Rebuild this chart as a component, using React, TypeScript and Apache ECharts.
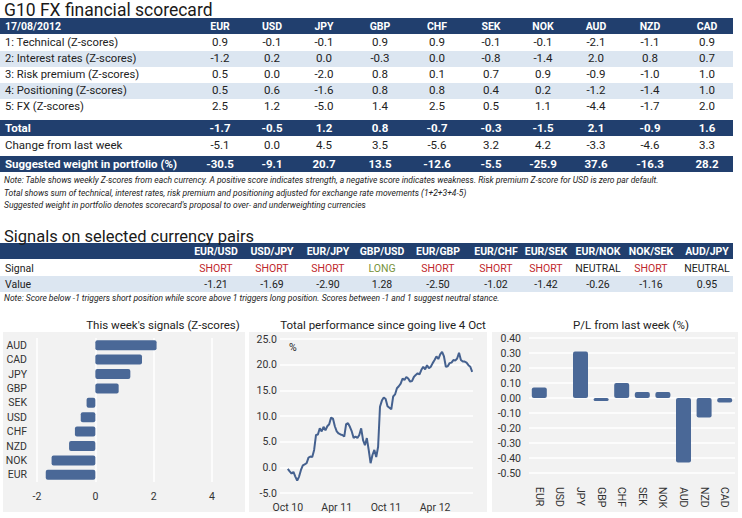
import React, { useEffect, useRef } from 'react';
import * as echarts from 'echarts';

// ---------- Data ----------
const currencies = ['EUR', 'USD', 'JPY', 'GBP', 'CHF', 'SEK', 'NOK', 'AUD', 'NZD', 'CAD'];
const technical = [0.9, -0.1, -0.1, 0.9, 0.9, -0.1, -0.1, -2.1, -1.1, 0.9];
const interestRates = [-1.2, 0.2, 0.0, -0.3, 0.0, -0.8, -1.4, 2.0, 0.8, 0.7];
const riskPremium = [0.5, 0.0, -2.0, 0.8, 0.1, 0.7, 0.9, -0.9, -1.0, 1.0];
const positioning = [0.5, 0.6, -1.6, 0.8, 0.8, 0.4, 0.2, -1.2, -1.4, 1.0];
const fxScores = [2.5, 1.2, -5.0, 1.4, 2.5, 0.5, 1.1, -4.4, -1.7, 2.0];
const totals = [-1.7, -0.5, 1.2, 0.8, -0.7, -0.3, -1.5, 2.1, -0.9, 1.6];
const changeFromLastWeek = [-5.1, 0.0, 4.5, 3.5, -5.6, 3.2, 4.2, -3.3, -4.6, 3.3];
const suggestedWeight = [-30.5, -9.1, 20.7, 13.5, -12.6, -5.5, -25.9, 37.6, -16.3, 28.2];

const pairs = ['EUR/USD', 'USD/JPY', 'EUR/JPY', 'GBP/USD', 'EUR/GBP', 'EUR/CHF', 'EUR/SEK', 'EUR/NOK', 'NOK/SEK', 'AUD/JPY'];
const pairSignals = ['SHORT', 'SHORT', 'SHORT', 'LONG', 'SHORT', 'SHORT', 'SHORT', 'NEUTRAL', 'SHORT', 'NEUTRAL'];
const pairValues = [-1.21, -1.69, -2.9, 1.28, -2.5, -1.02, -1.42, -0.26, -1.16, 0.95];

const signalCurrencies = ['EUR', 'NOK', 'NZD', 'CHF', 'USD', 'SEK', 'GBP', 'JPY', 'CAD', 'AUD'];
const signalValues = [-1.7, -1.5, -0.9, -0.7, -0.5, -0.3, 0.8, 1.2, 1.6, 2.1];

const perfStartUTC = Date.UTC(2010, 9, 1);
const performance = [
  -0.3, -0.8, -1.2, -0.9, -1.8, -2.6, -1.8, -0.5, 0.4, 0.6,
  0.8, 1.9, 2.1, 2.0, 3.4, 6.3, 6.4, 7.6, 7.0, 7.9,
  7.2, 8.0, 8.4, 9.7, 9.5, 8.0, 7.0, 6.6, 6.4, 6.3,
  6.0, 8.4, 8.6, 7.9, 7.0, 5.7, 6.0, 5.7, 6.3, 7.6,
  5.3, 4.3, 5.7, 3.4, 0.8, 2.4, 3.4, 2.0, 4.0, 11.8,
  13.0, 13.6, 13.3, 11.9, 11.6, 11.3, 13.8, 14.2, 15.4, 15.8,
  16.3, 17.3, 17.0, 17.6, 17.3, 16.7, 16.8, 17.6, 18.0, 18.3,
  18.1, 19.0, 19.6, 19.1, 19.9, 19.3, 19.6, 20.3, 20.9, 21.6,
  21.1, 22.0, 22.5, 21.6, 19.6, 19.7, 20.3, 20.4, 20.9, 20.8,
  21.2, 22.3, 20.9, 20.6, 20.6, 20.4, 19.9, 19.6, 18.6,
];
const perfTickDates = [Date.UTC(2010, 9, 1), Date.UTC(2011, 3, 1), Date.UTC(2011, 9, 1), Date.UTC(2012, 3, 1)];
const perfTickLabels = ['Oct 10', 'Apr 11', 'Oct 11', 'Apr 12'];

const plCurrencies = ['EUR', 'USD', 'JPY', 'GBP', 'CHF', 'SEK', 'NOK', 'AUD', 'NZD', 'CAD'];
const plValues = [0.07, 0.0, 0.31, -0.02, 0.1, 0.04, 0.04, -0.43, -0.13, -0.03];

const notes1 = [
  'Note: Table shows weekly Z-scores from each currency. A positive score indicates strength, a negative score indicates weakness. Risk premium Z-score for USD is zero par default.',
  'Total shows sum of technical, interest rates, risk premium and positioning adjusted for exchange rate movements (1+2+3+4-5)',
  "Suggested weight in portfolio denotes scorecard's proposal to over- and underweighting currencies",
];
const note2 = 'Note: Score below -1 triggers short position while score above 1 triggers long position. Scores between -1 and 1 suggest neutral stance.';

// ---------- Styling ----------
const NAVY = '#213f6e';
const BAND = '#dce6f1';
const BAR = '#4a6897';
const LINE = '#45618f';
const PANEL = '#f2f2f2';
const F = "Roboto, 'DejaVu Sans', sans-serif";
const FN = "'Liberation Sans Narrow', 'Arial Narrow', Roboto, sans-serif";

const cols1 = [220, 272, 324, 380, 437, 491, 543, 596, 650, 707];
const cols2 = [216, 272, 328, 382, 438, 496, 546, 598, 651, 707];

function buildGraphics() {
  const g: any[] = [];
  const rect = (x: number, y: number, w: number, h: number, fill: string, z = 0) =>
    g.push({ type: 'rect', silent: true, z, shape: { x, y, width: w, height: h }, style: { fill } });
  const text = (x: number, y: number, t: string, o: any = {}) =>
    g.push({
      type: 'text', silent: true, z: 1, x, y, scaleX: o.sx || 1,
      style: {
        text: t, fill: o.fill || '#222', fontSize: o.size || 10.5, fontFamily: o.family || F,
        fontWeight: o.weight || 'normal', fontStyle: o.italic ? 'italic' : 'normal',
        align: o.align || 'left', verticalAlign: 'middle',
        textAlign: o.align || 'left', textVerticalAlign: 'middle',
      },
    });

  // Table 1
  text(4, 10, 'G10 FX financial scorecard', { size: 17.5, family: FN, fill: '#1a1a1a' });
  rect(0, 18, 733, 16, NAVY);
  text(5, 26, '17/08/2012', { fill: '#fff', weight: 'bold', size: 10.5 });
  currencies.forEach((c, i) => text(cols1[i], 26, c, { fill: '#fff', weight: 'bold', align: 'center', size: 10.5 }));
  const rows: [string, number[]][] = [
    ['1: Technical (Z-scores)', technical],
    ['2: Interest rates (Z-scores)', interestRates],
    ['3: Risk premium (Z-scores)', riskPremium],
    ['4: Positioning (Z-scores)', positioning],
    ['5: FX (Z-scores)', fxScores],
  ];
  rows.forEach(([label, vals], r) => {
    const y = 43 + r * 16;
    if (r % 2 === 1) rect(0, y - 8, 733, 16, BAND);
    text(5, y, label, { size: 10.5, sx: 1.07 });
    vals.forEach((v, i) => text(cols1[i], y, v.toFixed(1), { align: 'center', size: 10.5, sx: 1.1 }));
  });
  rect(0, 120, 733, 16, NAVY);
  text(5, 128, 'Total', { fill: '#fff', weight: 'bold', family: FN, size: 11.5 });
  totals.forEach((v, i) => text(cols1[i], 128, v.toFixed(1), { fill: '#fff', weight: 'bold', family: FN, align: 'center', size: 11.5 }));
  text(5, 145, 'Change from last week', { family: FN, size: 11.5 });
  changeFromLastWeek.forEach((v, i) => text(cols1[i], 145, v.toFixed(1), { family: FN, align: 'center', size: 11.5 }));
  rect(0, 156, 733, 16, NAVY);
  text(5, 164, 'Suggested weight in portfolio (%)', { fill: '#fff', weight: 'bold', family: FN, size: 11.5 });
  suggestedWeight.forEach((v, i) => text(cols1[i], 164, v.toFixed(1), { fill: '#fff', weight: 'bold', family: FN, align: 'center', size: 11.5 }));
  notes1.forEach((n, i) => text(4, 180 + i * 12.5, n, { family: FN, italic: true, size: 8.5 }));

  // Table 2
  text(4, 236, 'Signals on selected currency pairs', { size: 16.5, family: FN, fill: '#1a1a1a' });
  rect(0, 243, 733, 16, NAVY);
  pairs.forEach((p, i) => text(cols2[i], 251, p, { fill: '#fff', weight: 'bold', align: 'center', size: 10.5, family: FN }));
  text(5, 268, 'Signal', { size: 10.5 });
  pairSignals.forEach((s, i) =>
    text(cols2[i], 268, s, {
      align: 'center', size: 10.5,
      fill: s === 'SHORT' ? '#c0272d' : s === 'LONG' ? '#77933c' : '#222',
    }));
  rect(0, 276, 733, 16, BAND);
  text(5, 284, 'Value', { size: 10.5 });
  pairValues.forEach((v, i) => text(cols2[i], 284, v.toFixed(2), { align: 'center', size: 10.5 }));
  text(4, 298, note2, { family: FN, italic: true, size: 8.5 });

  // Chart panels
  rect(3, 332, 242, 180, PANEL, -10);
  rect(249, 332, 238, 180, PANEL, -10);
  rect(492, 332, 246, 180, PANEL, -10);
  text(163, 325, "This week's signals (Z-scores)", { align: 'center', size: 11.5, family: FN });
  text(383, 325, 'Total performance since going live 4 Oct', { align: 'center', size: 11.5, family: FN });
  text(631, 325, 'P/L from last week (%)', { align: 'center', size: 11.5, family: FN });
  text(289, 347, '%', { size: 10.5 });
  return g;
}

function buildOption(): any {
  const axisText = { color: '#333', fontSize: 10.5, fontFamily: F };
  const whiteSplit = { show: true, lineStyle: { color: '#ffffff', width: 1.5 } };
  const perfData = performance.map((v, i) => [perfStartUTC + i * 7 * 86400000, v]);
  return {
    animation: false,
    graphic: buildGraphics(),
    grid: [
      { left: 37, top: 338, width: 175, height: 144 },
      { left: 280, top: 339, width: 193, height: 154 },
      { left: 529, top: 338, width: 206, height: 135 },
    ],
    xAxis: [
      {
        gridIndex: 0, type: 'value', min: -2, max: 4, interval: 2,
        axisLine: { show: false }, axisTick: { show: false }, splitLine: whiteSplit,
        axisLabel: { ...axisText, margin: 9 },
      },
      {
        gridIndex: 1, type: 'value', min: Date.UTC(2010, 8, 2), max: Date.UTC(2012, 7, 20),
        axisLine: { show: false }, axisTick: { show: false }, splitLine: { show: false },
        axisLabel: {
          ...axisText, margin: 9, customValues: perfTickDates,
          formatter: (v: number) => {
            let best = 0;
            perfTickDates.forEach((d, i) => { if (Math.abs(d - v) < Math.abs(perfTickDates[best] - v)) best = i; });
            return perfTickLabels[best];
          },
        },
      },
      {
        gridIndex: 2, type: 'category', data: plCurrencies,
        axisLine: { show: false }, axisTick: { show: false },
        axisLabel: { ...axisText, rotate: -90, margin: 14, interval: 0 },
      },
    ],
    yAxis: [
      {
        gridIndex: 0, type: 'category', data: signalCurrencies,
        axisLine: { show: false }, axisTick: { show: false },
        axisLabel: { ...axisText, margin: 10, interval: 0 },
      },
      {
        gridIndex: 1, type: 'value', min: -5, max: 25, interval: 5,
        axisLine: { show: false }, axisTick: { show: false }, splitLine: whiteSplit,
        axisLabel: { ...axisText, margin: 3, formatter: (v: number) => v.toFixed(1) },
      },
      {
        gridIndex: 2, type: 'value', min: -0.5, max: 0.4, interval: 0.1,
        axisLine: { show: false }, axisTick: { show: false }, splitLine: whiteSplit,
        axisLabel: { ...axisText, margin: 8, formatter: (v: number) => (Math.abs(v) < 1e-9 ? 0 : v).toFixed(2) },
      },
    ],
    series: [
      {
        type: 'bar', xAxisIndex: 0, yAxisIndex: 0, data: signalValues, barWidth: 10,
        itemStyle: { color: BAR, borderRadius: 2 },
      },
      {
        type: 'line', xAxisIndex: 1, yAxisIndex: 1, data: perfData, showSymbol: false,
        lineStyle: { color: LINE, width: 2 }, itemStyle: { color: LINE },
      },
      {
        type: 'bar', xAxisIndex: 2, yAxisIndex: 2, data: plValues, barWidth: 15,
        itemStyle: { color: BAR, borderRadius: 2 },
      },
    ],
  };
}

export default function App() {
  const ref = useRef<HTMLDivElement>(null);
  useEffect(() => {
    if (!ref.current) return;
    const chart = echarts.init(ref.current, undefined, { renderer: 'svg' });
    chart.setOption(buildOption());
    return () => chart.dispose();
  }, []);
  return (
    <div
      ref={ref}
      style={{ position: 'absolute', left: 0, top: 0, width: 742, height: 518, background: '#ffffff' }}
    />
  );
}
